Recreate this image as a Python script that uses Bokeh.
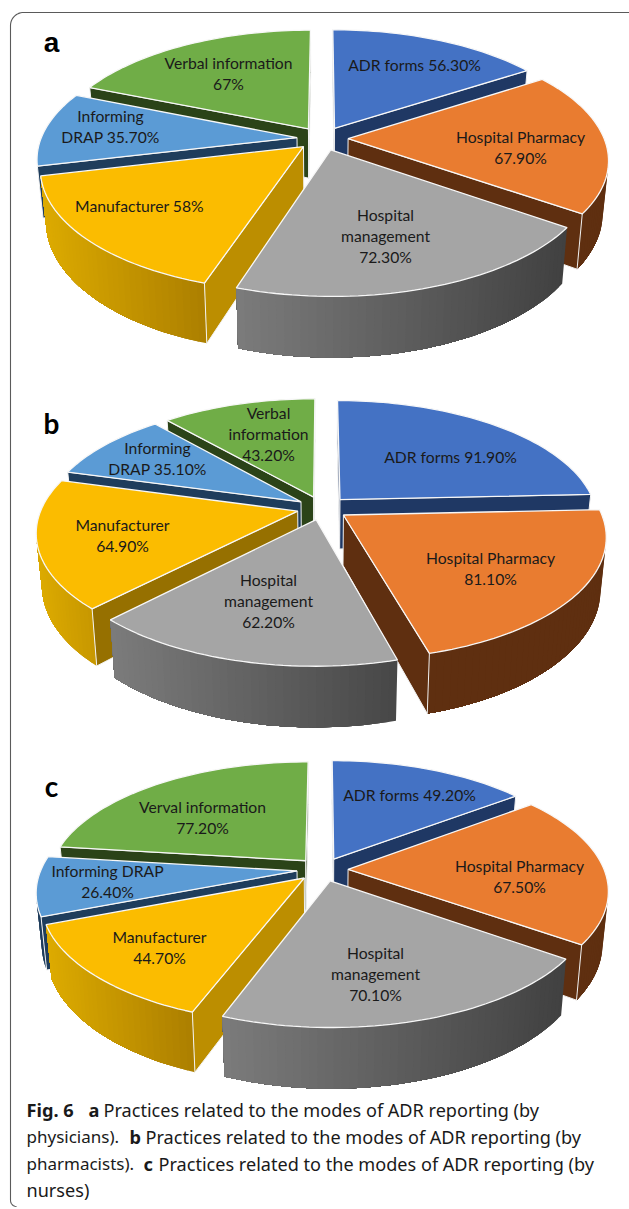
import math

from bokeh.core.properties import value
from bokeh.embed import file_html
from bokeh.models import ColumnDataSource
from bokeh.plotting import figure
from bokeh.resources import INLINE

# Percentages per reporting mode, in clockwise order from twelve o'clock
MODES = ["adr", "pharmacy", "hospital", "manufacturer", "drap", "verbal"]
PHYSICIANS = [56.3, 67.9, 72.3, 58.0, 35.7, 67.0]
PHARMACISTS = [91.9, 81.1, 62.2, 64.9, 35.1, 43.2]
NURSES = [49.2, 67.5, 70.1, 44.7, 26.4, 77.2]

# Multi-line labels of each slice, in the same order
LABELS_A = [["ADR forms 56.30%"], ["Hospital Pharmacy", "67.90%"], ["Hospital", "management", "72.30%"],
            ["Manufacturer 58%"], ["Informing", "DRAP 35.70%"], ["Verbal information", "67%"]]
LABELS_B = [["ADR forms 91.90%"], ["Hospital Pharmacy", "81.10%"], ["Hospital", "management", "62.20%"],
            ["Manufacturer", "64.90%"], ["Informing", "DRAP 35.10%"], ["Verbal", "information", "43.20%"]]
LABELS_C = [["ADR forms 49.20%"], ["Hospital Pharmacy", "67.50%"], ["Hospital", "management", "70.10%"],
            ["Manufacturer", "44.70%"], ["Informing DRAP", "26.40%"], ["Verval information", "77.20%"]]

# Centre of each label block on the page (x, y of first line)
LABEL_AT_A = [(414, 64), (520, 136), (385, 214), (139, 205), (110, 115), (228, 62)]
LABEL_AT_B = [(450, 456), (490, 557), (268, 579), (122, 524), (157, 447), (268, 412)]
LABEL_AT_C = [(409, 794), (519, 865), (375, 952), (159, 936), (107, 870), (202, 806)]

# Pie projection
CX = 322
RX = 256
RY = 118
PERSPECTIVE = 0.166
EXPLODE = 0.10
THICKNESS = 50
STEP = 1.5

TOP = {"adr": "#4472C4", "pharmacy": "#E97C30", "hospital": "#A5A5A5",
       "manufacturer": "#FBBC00", "drap": "#5B9BD5", "verbal": "#70AD47"}
WALL_LEFT = {"adr": "#203864", "pharmacy": "#5F2F10", "hospital": "#7C7C7C",
             "manufacturer": "#DDAB00", "drap": "#1F3D5C", "verbal": "#2B4318"}
WALL_RIGHT = {"adr": "#203864", "pharmacy": "#5F2F10", "hospital": "#414141",
              "manufacturer": "#AD8000", "drap": "#1F3D5C", "verbal": "#2B4318"}
CUT_FACE = {"adr": "#1F3864", "pharmacy": "#5F2F10", "hospital": "#555555",
            "manufacturer": "#BC8E00", "drap": "#1F3D5C", "verbal": "#2B4318"}


def project(u, v, cy, z=0.0):
    s = 1.0 / (1.0 + PERSPECTIVE * v)
    return (CX + RX * u * s * (1.0 - 0.02 * z), cy - RY * v * s + THICKNESS * s * z)


def area(points):
    total = 0.0
    for (x0, y0), (x1, y1) in zip(points, points[1:] + points[:1]):
        total += x0 * y1 - x1 * y0
    return total / 2.0


def mix(c0, c1, t):
    a = [int(c0[i:i + 2], 16) for i in (1, 3, 5)]
    b = [int(c1[i:i + 2], 16) for i in (1, 3, 5)]
    return "#%02x%02x%02x" % tuple(round(p + (q - p) * t) for p, q in zip(a, b))


def wall(p0, p1, cy):
    return [project(*p0, cy), project(*p1, cy), project(*p1, cy, 1.0), project(*p0, cy, 1.0)]


def pie_polygons(values, cy, cut_face, wall_right):
    """Polygons of one exploded pie, listed in painting order."""
    total = sum(values)
    slices = []
    start = 0.0
    for mode, val in zip(MODES, values):
        sweep = 360.0 * val / total
        mid = math.radians(start + sweep / 2.0)
        ou, ov = EXPLODE * math.sin(mid), EXPLODE * math.cos(mid)
        n = max(2, int(sweep / STEP))
        angles = [math.radians(start + sweep * i / n) for i in range(n + 1)]
        rim = [(ou + math.sin(a), ov + math.cos(a)) for a in angles]
        slices.append((project(ou, ov, cy)[1], mode, (ou, ov), rim))
        start += sweep

    polys = []
    for _, mode, apex, rim in sorted(slices, key=lambda item: item[0]):
        # Curved rim: each shaded band runs on to the far end and the next one paints over it,
        # so no seams show between neighbouring bands
        visible = [i for i in range(len(rim) - 1) if area(wall(rim[i], rim[i + 1], cy)) < 0]
        if visible:
            xs_rim = [project(*rim[i], cy)[0] for i in visible] + [project(*rim[visible[-1] + 1], cy)[0]]
            lo, hi = min(xs_rim), max(xs_rim)
            last = visible[-1] + 1
            for i in visible:
                band = [project(*q, cy) for q in rim[i:last + 1]]
                band += [project(*q, cy, 1.0) for q in reversed(rim[i:last + 1])]
                t = (project(*rim[i], cy)[0] - lo) / max(hi - lo, 1.0)
                polys.append((band, mix(WALL_LEFT[mode], wall_right.get(mode, WALL_RIGHT[mode]), t), None, 0.0))
        # Cut faces sit on top of the rim where the two meet
        for p0, p1 in ((apex, rim[0]), (rim[-1], apex)):
            quad = wall(p0, p1, cy)
            if area(quad) < 0:
                polys.append((quad, cut_face.get(mode, CUT_FACE[mode]), "#F2F2F2", 1.0))
        outline = [project(*apex, cy)] + [project(*q, cy) for q in rim]
        polys.append((outline, TOP[mode], "#F7F7F7", 1.3))
    return polys


p = figure(width=629, height=1209, x_range=(0, 629), y_range=(1209, 0),
           output_backend="svg", toolbar_location=None, min_border=0)
p.axis.visible = False
p.grid.visible = False
p.outline_line_color = None
p.background_fill_color = "white"
p.border_fill_color = "white"

# Rounded frame, open towards the right edge
corner = 13
frame_x, frame_y = [], []
for deg in range(90, 181, 6):
    frame_x.append(10 + corner - corner * math.sin(math.radians(deg - 90)))
    frame_y.append(12 + corner - corner * math.cos(math.radians(deg - 90)))
frame_x = [629] + frame_x + [10] + [10 + 6 - 6 * math.cos(math.radians(d)) for d in range(0, 91, 15)]
frame_y = [12] + frame_y + [1200] + [1200 + 6 * math.sin(math.radians(d)) for d in range(0, 91, 15)]
p.line(frame_x, frame_y, line_color="#5A5A5A", line_width=1.1)

# The pharmacists' pie has a shallower cut on the yellow slice, so it catches less light
PANELS = [("a", PHYSICIANS, 138, LABELS_A, LABEL_AT_A, 42, "Liberation Sans", {}, {}),
          ("b", PHARMACISTS, 507.5, LABELS_B, LABEL_AT_B, 422, "Lato",
           {"manufacturer": "#967000"}, {"manufacturer": "#C89800", "hospital": "#484848"}),
          ("c", NURSES, 869, LABELS_C, LABEL_AT_C, 785, "Lato", {}, {})]

xs, ys, fills, lines, widths = [], [], [], [], []
for _, values, cy, _, _, _, _, cut_face, wall_right in PANELS:
    for poly, fill, line, width in pie_polygons(values, cy, cut_face, wall_right):
        xs.append([pt[0] for pt in poly])
        ys.append([pt[1] for pt in poly])
        fills.append(fill)
        lines.append(line if line else fill)
        widths.append(width)
p.patches("xs", "ys", source=ColumnDataSource(dict(xs=xs, ys=ys, f=fills, l=lines, w=widths)),
          fill_color="f", line_color="l", line_width="w")

LINE_GAP = 21
for letter, _, _, labels, anchors, letter_y, letter_font, _, _ in PANELS:
    tx, ty, tt = [], [], []
    for block, (ax, ay) in zip(labels, anchors):
        for i, line in enumerate(block):
            tx.append(ax)
            ty.append(ay + i * LINE_GAP)
            tt.append(line)
    p.text(tx, ty, text=tt, text_font=value("Lato"), text_font_size="15.7px", text_color="#1A1A1A",
           text_align="center", text_baseline="middle")
    p.text([51], [letter_y], text=[letter], text_font=value(letter_font), text_font_style="bold",
           text_font_size="28px", text_color="black", text_align="center", text_baseline="middle")

# Caption runs: x, y, text, weight, size
CAPTION = [(26, 1109, "Fig. 6", "bold", 18.2), (88, 1109, "a", "bold", 18.2),
           (103, 1109, "Practices related to the modes of ADR reporting (by", "normal", 18.1),
           (26, 1136, "physicians).", "normal", 17.0), (129, 1136, "b", "bold", 18.2),
           (145, 1136, "Practices related to the modes of ADR reporting (by", "normal", 18.1),
           (26, 1163, "pharmacists).", "normal", 17.0), (143, 1163, "c", "bold", 18.2),
           (158, 1163, "Practices related to the modes of ADR reporting (by", "normal", 18.1),
           (26, 1189, "nurses)", "normal", 18.1)]
for x, y, txt, weight, size in CAPTION:
    p.text([x], [y], text=[txt], text_font=value("Noto Sans"), text_font_style=weight,
           text_font_size=f"{size}px", text_color="#1A1A1A", text_align="left", text_baseline="middle")

open("out.html", "w").write(file_html(p, INLINE))
